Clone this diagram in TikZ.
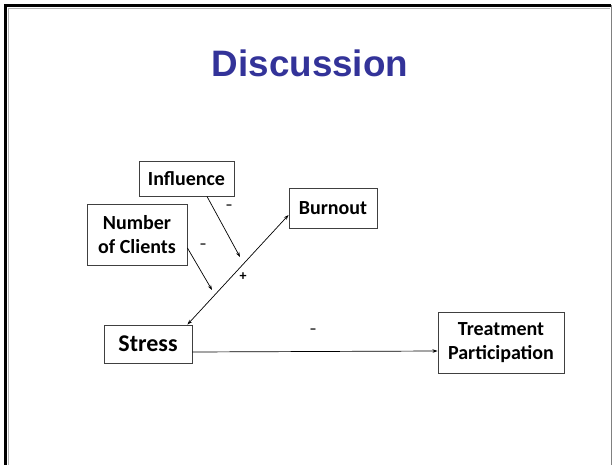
\documentclass[tikz,border=0pt]{standalone}
\usepackage{fontspec}
\setmainfont{Carlito}
\newfontfamily\titlefont{Liberation Sans}
\usetikzlibrary{arrows.meta,calc}
\definecolor{titleblue}{HTML}{333399}
\definecolor{boxline}{HTML}{404040}
\begin{document}
\begin{tikzpicture}[x=1pt,y=-1pt,
  concept/.style={draw=boxline,line width=0.9pt,inner sep=0pt,align=center,
    font=\bfseries\fontsize{20}{24}\selectfont},
  link/.style={line width=0.7pt,-{Stealth[length=5pt,width=3.5pt]}},
  sign/.style={font=\bfseries\fontsize{14}{14}\selectfont,inner sep=0pt}]
  \useasboundingbox (0,0) rectangle (613,465);
  % slide frame
  \draw[line width=1pt,gray!60] (8.5,470) -- (8.5,8.5) -- (610,8.5);
  \draw[line width=3pt,black] (5.5,470) -- (5.5,5.5) -- (611,5.5);
  \draw[line width=1.2pt,gray] (611.6,5) -- (611.6,470);
  % title
  \node[font=\titlefont\bfseries\fontsize{36.8}{40}\selectfont,text=titleblue,anchor=base]
    (title) at (310,77) {Discussion};
  % concepts
  \node[concept,minimum width=95pt,minimum height=35pt] (influence) at (186.5,178.5) {Influence};
  \node[concept,minimum width=100pt,minimum height=61pt] (clients) at (137,234.5) {Number\\of Clients};
  \node[concept,minimum width=88pt,minimum height=40pt] (burnout) at (333,208) {Burnout};
  \node[concept,minimum width=88pt,minimum height=38pt,font=\bfseries\fontsize{24}{28}\selectfont] (stress) at (148,344) {Stress};
  \node[concept,minimum width=126pt,minimum height=61pt] (treatment) at (501,342.5) {Treatment\\Participation};
  % moderator targets next to the stress--burnout path
  \coordinate (infend) at (240,257);
  \coordinate (cliend) at (212,290);
  % connectors
  \draw[link,{Stealth[length=5pt,width=3.5pt]}-{Stealth[length=5pt,width=3.5pt]}]
    ($(stress.north east)+(-5,0)$) -- ($(burnout.west)+(0,7)$);
  \draw[link] ($(influence.south)+(20.5,0)$) -- (infend);
  \draw[link] ($(clients.east)+(0,13.5)$) -- (cliend);
  \draw[link] ($(stress.east)+(0,8)$) -- ($(treatment.west)+(0,8.5)$);
  % signs
  \node[sign] (s1) at (229,207) {–};
  \node[sign] (s2) at (203,246) {–};
  \node[sign] (s3) at (243,277) {+};
  \node[sign] (s4) at (313,331) {–};
\end{tikzpicture}
\end{document}
